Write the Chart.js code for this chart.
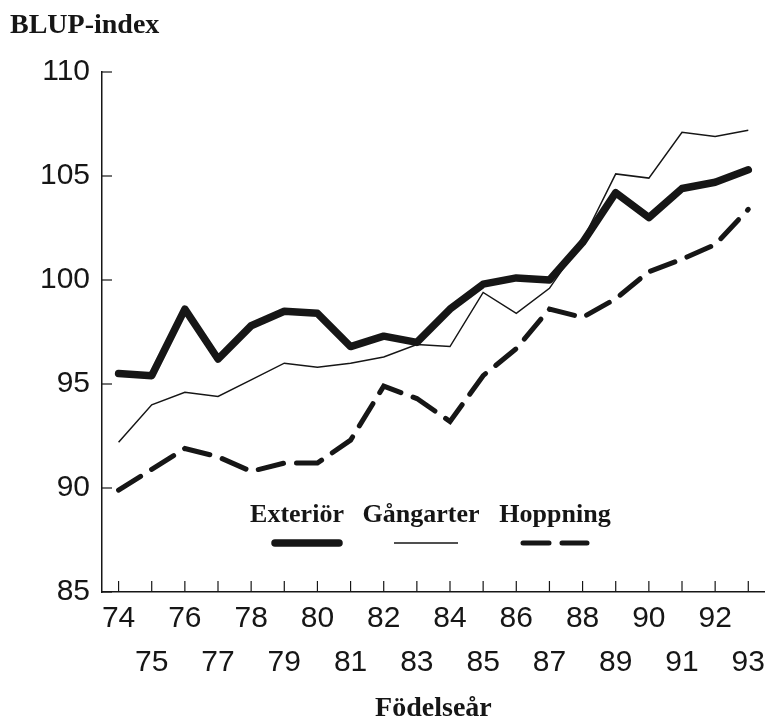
<!DOCTYPE html>
<html>
<head>
<meta charset="utf-8">
<script src="https://cdn.jsdelivr.net/npm/chart.js@4"></script>
<style>
  html, body { margin: 0; background: #fff; }
  canvas { display: block; }
</style>
</head>
<body>
<canvas id="chart" width="770" height="720"></canvas>
<script>
const years = ['74','75','76','77','78','79','80','81','82','83','84','85','86','87','88','89','90','91','92','93'];
const exterior  = [95.5, 95.4, 98.6, 96.2, 97.8, 98.5, 98.4, 96.8, 97.3, 97.0, 98.6, 99.8, 100.1, 100.0, 101.8, 104.2, 103.0, 104.4, 104.7, 105.3];
const gangarter = [92.2, 94.0, 94.6, 94.4, 95.2, 96.0, 95.8, 96.0, 96.3, 96.9, 96.8, 99.4, 98.4, 99.6, 101.9, 105.1, 104.9, 107.1, 106.9, 107.2];
const hoppning  = [89.9, 90.9, 91.9, 91.5, 90.8, 91.2, 91.2, 92.3, 94.9, 94.3, 93.2, 95.4, 96.7, 98.6, 98.2, 99.1, 100.4, 101.0, 101.7, 103.4];
const yMin = 85, yMax = 110, yStep = 5;

const ink = '#161616';
const sans = '"Liberation Sans", Arial, sans-serif';
const serif = '"Liberation Serif", "Times New Roman", serif';

// inward tick marks, title and the legend under the lines
const decor = {
  id: 'decor',
  afterDraw(chart){
    const { ctx, chartArea: a, scales: { x, y } } = chart;
    ctx.save();
    ctx.strokeStyle = ink;
    ctx.fillStyle = ink;
    ctx.lineWidth = 1.2;
    x.ticks.forEach((t, i) => {
      const px = x.getPixelForTick(i);
      ctx.beginPath(); ctx.moveTo(px, a.bottom); ctx.lineTo(px, a.bottom - 11); ctx.stroke();
    });
    y.ticks.forEach((t, i) => {
      const py = y.getPixelForTick(i);
      ctx.beginPath(); ctx.moveTo(a.left, py); ctx.lineTo(a.left + 10, py); ctx.stroke();
    });

    ctx.font = 'bold 28px ' + serif;
    ctx.textAlign = 'left';
    ctx.textBaseline = 'alphabetic';
    ctx.fillText('BLUP-index', 10, 33);

    const textX = [195, 319, 453];
    const keyX = [205, 324, 453];
    chart.data.datasets.forEach((ds, i) => {
      ctx.font = 'bold 26px ' + serif;
      ctx.textAlign = 'center';
      ctx.fillText(ds.label, a.left + textX[i], a.bottom - 70);
      ctx.lineWidth = ds.borderWidth;
      ctx.setLineDash(ds.borderDash || []);
      ctx.lineCap = ds.borderCapStyle || 'butt';
      ctx.beginPath();
      ctx.moveTo(a.left + keyX[i] - 32, a.bottom - 49);
      ctx.lineTo(a.left + keyX[i] + 32, a.bottom - 49);
      ctx.stroke();
    });
    ctx.restore();
  }
};

new Chart(document.getElementById('chart'), {
  type: 'line',
  data: {
    labels: years,
    datasets: [
      { label: 'Exteriör', data: exterior, borderColor: ink, borderWidth: 7.5, borderCapStyle: 'round', borderJoinStyle: 'round' },
      { label: 'Gångarter', data: gangarter, borderColor: ink, borderWidth: 1.5 },
      { label: 'Hoppning', data: hoppning, borderColor: ink, borderWidth: 5, borderDash: [26, 13], borderCapStyle: 'round' }
    ]
  },
  options: {
    responsive: false,
    animation: false,
    devicePixelRatio: 1,
    layout: { padding: { top: 72, left: 0, right: 1, bottom: 0 } },
    elements: { point: { radius: 0 }, line: { tension: 0, fill: false } },
    plugins: { legend: { display: false }, tooltip: { enabled: false } },
    scales: {
      x: {
        type: 'category',
        offset: true,
        grid: { display: false, drawTicks: false },
        border: { color: ink, width: 1.5 },
        ticks: {
          autoSkip: false, maxRotation: 0, minRotation: 0, padding: 5, color: ink,
          font: { family: sans, size: 30, lineHeight: 1.45 },
          callback(v, i){ const l = this.getLabelForValue(v); return i % 2 === 0 ? [l, ''] : ['', l]; }
        },
        title: { display: true, text: 'Födelseår', color: ink, padding: { top: 0, bottom: 0 },
          font: { family: serif, size: 28, weight: 'bold', lineHeight: 0.8 } },
        afterFit(s){ s.height = 128; }
      },
      y: {
        min: yMin, max: yMax,
        grid: { display: false, drawTicks: false },
        border: { color: ink, width: 1.5 },
        ticks: { stepSize: yStep, padding: 12, color: ink, font: { family: sans, size: 30 } },
        afterFit(s){ s.width = 102; }
      }
    }
  },
  plugins: [decor]
});
</script>
</body>
</html>
